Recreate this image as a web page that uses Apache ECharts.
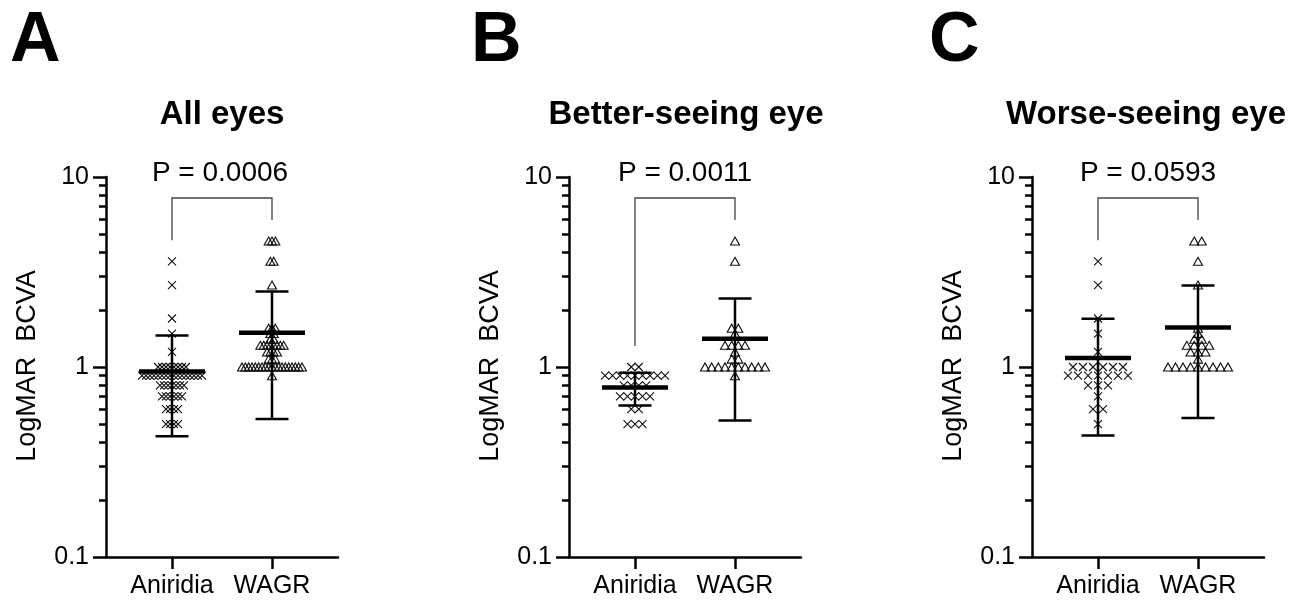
<!DOCTYPE html>
<html>
<head>
<meta charset="utf-8">
<script src="https://cdn.jsdelivr.net/npm/echarts@6/dist/echarts.min.js"></script>
<style>
html,body{margin:0;padding:0;background:#fff;}
#chart{width:1301px;height:603px;}
</style>
</head>
<body>
<div id="chart"></div>
<script>
// ---------------- data ----------------
const categories = ['Aniridia', 'WAGR'];
const panelLetters = ['A', 'B', 'C'];
const panelTitles = ['All eyes', 'Better-seeing eye', 'Worse-seeing eye'];
const pValues = ['P = 0.0006', 'P = 0.0011', 'P = 0.0593'];
const yTickValues = [0.1, 1, 10];
const yMinorTickValues = [0.2, 0.3, 0.4, 0.5, 0.6, 0.7, 0.8, 0.9, 2, 3, 4, 5, 6, 7, 8, 9];
const yAxisTitle = 'LogMAR  BCVA';

// All eyes
const allAniridia = [3.6, 2.7, 1.8, 1.5, 1.2,
  1.0, 1.0, 1.0, 1.0, 1.0, 1.0, 1.0, 1.0,
  0.9, 0.9, 0.9, 0.9, 0.9, 0.9, 0.9, 0.9, 0.9, 0.9, 0.9, 0.9, 0.9, 0.9, 0.9, 0.9,
  0.8, 0.8, 0.8, 0.8, 0.8, 0.8, 0.8,
  0.7, 0.7, 0.7, 0.7, 0.7, 0.7,
  0.6, 0.6, 0.6, 0.6,
  0.5, 0.5, 0.5, 0.5];
const allWAGR = [4.6, 4.6, 4.6, 3.6, 3.6, 2.7,
  1.6, 1.6, 1.6, 1.5, 1.5, 1.4, 1.4,
  1.3, 1.3, 1.3, 1.3, 1.3, 1.3, 1.3, 1.3,
  1.2, 1.2, 1.2, 1.2, 1.1, 1.1, 1.1,
  1.0, 1.0, 1.0, 1.0, 1.0, 1.0, 1.0, 1.0, 1.0, 1.0, 1.0, 1.0, 1.0, 1.0, 1.0, 1.0, 1.0, 1.0, 1.0,
  0.9];

// Better-seeing eye
const betterAniridia = [1.0, 1.0,
  0.9, 0.9, 0.9, 0.9, 0.9, 0.9, 0.9, 0.9, 0.9,
  0.8, 0.8, 0.8, 0.8,
  0.7, 0.7, 0.7, 0.7, 0.7,
  0.6, 0.6,
  0.5, 0.5, 0.5];
const betterWAGR = [4.6, 3.6, 1.6, 1.6, 1.5,
  1.3, 1.3, 1.3, 1.3, 1.2, 1.1, 1.1,
  1.0, 1.0, 1.0, 1.0, 1.0, 1.0, 1.0, 1.0, 1.0, 1.0,
  0.9];

// Worse-seeing eye
const worseAniridia = [3.6, 2.7, 1.8, 1.5, 1.2,
  1.0, 1.0, 1.0, 1.0, 1.0, 1.0,
  0.9, 0.9, 0.9, 0.9, 0.9, 0.9, 0.9,
  0.8, 0.8, 0.8,
  0.7,
  0.6, 0.6,
  0.5];
const worseWAGR = [4.6, 4.6, 3.6, 2.7, 1.6, 1.5, 1.4, 1.4,
  1.3, 1.3, 1.3, 1.3, 1.2, 1.2, 1.2, 1.1,
  1.0, 1.0, 1.0, 1.0, 1.0, 1.0, 1.0, 1.0, 1.0];

const panels = [
  [allAniridia, allWAGR],
  [betterAniridia, betterWAGR],
  [worseAniridia, worseWAGR]
];

// ---------------- helpers ----------------
const FONT = '"Liberation Sans", Arial, Helvetica, sans-serif';
const gridLefts = [106, 569, 1032];
const GRID_TOP = 177, GRID_H = 380, GRID_W = 232;
const X_MIN = 0.34, X_MAX = 2.66;

// dot-plot layout: points with equal value are spread symmetrically
function swarm(values, center) {
  const groups = new Map();
  values.forEach(v => { if (!groups.has(v)) groups.set(v, 0); groups.set(v, groups.get(v) + 1); });
  let maxCount = 1;
  groups.forEach(c => { if (c > maxCount) maxCount = c; });
  const sp = maxCount > 1 ? Math.min(0.10, 0.60 / (maxCount - 1)) : 0.1;
  const out = [];
  groups.forEach((n, v) => {
    for (let i = 0; i < n; i++) out.push([center + (i - (n - 1) / 2) * sp, v]);
  });
  return out;
}
function meanSd(values) {
  const n = values.length;
  const m = values.reduce((a, b) => a + b, 0) / n;
  const sd = Math.sqrt(values.reduce((a, b) => a + (b - m) * (b - m), 0) / (n - 1));
  return [m, sd];
}

const crossPath = 'path://M0,0L10,10M0,10L10,0';

const grids = [], xAxes = [], yAxes = [], series = [], graphics = [];

panels.forEach((pair, i) => {
  grids.push({ left: gridLefts[i], top: GRID_TOP, width: GRID_W, height: GRID_H });
  xAxes.push({
    type: 'value', gridIndex: i, min: X_MIN, max: X_MAX,
    axisLine: { show: true, lineStyle: { color: '#000', width: 2.5 } },
    axisTick: { show: true, customValues: [1, 2], length: 12, lineStyle: { color: '#000', width: 2.5 } },
    axisLabel: { show: true, customValues: [1, 2], formatter: v => categories[Math.round(v) - 1] || '',
      fontSize: 25, color: '#000', fontFamily: FONT, margin: 17 },
    splitLine: { show: false }
  });
  yAxes.push({
    type: 'log', logBase: 10, gridIndex: i, min: 0.1, max: 10, position: 'left',
    axisLine: { show: true, lineStyle: { color: '#000', width: 2.5 } },
    axisTick: { show: true, customValues: yTickValues, length: 13, lineStyle: { color: '#000', width: 2.5 } },
    axisLabel: { show: true, customValues: yTickValues, formatter: v => String(v), fontSize: 25, color: '#000', fontFamily: FONT, margin: 17 },
    splitLine: { show: false }
  });
  yAxes.push({
    type: 'log', logBase: 10, gridIndex: i, min: 0.1, max: 10, position: 'left', offset: 0,
    axisLine: { show: false },
    axisTick: { show: true, customValues: yMinorTickValues, length: 7, lineStyle: { color: '#000', width: 2.5 } },
    axisLabel: { show: false },
    splitLine: { show: false }
  });
  const yIdx = i * 2;

  pair.forEach((vals, k) => {
    series.push({
      type: 'scatter', xAxisIndex: i, yAxisIndex: yIdx,
      data: swarm(vals, k + 1),
      symbol: k === 0 ? crossPath : 'triangle',
      symbolSize: k === 0 ? 8 : [9, 8],
      itemStyle: { color: 'rgba(0,0,0,0)', borderColor: '#111', borderWidth: 1.1, opacity: 1 },
      silent: true, z: 2, animation: false
    });
  });

  const ebData = pair.map((vals, k) => {
    const [m, sd] = meanSd(vals);
    return [k + 1, m, m - sd, m + sd];
  });
  series.push({
    type: 'custom', xAxisIndex: i, yAxisIndex: yIdx, data: ebData, z: 5, silent: true, animation: false,
    encode: { x: 0, y: [1, 2, 3] },
    renderItem: function (params, api) {
      const x = api.value(0), m = api.value(1), lo = api.value(2), hi = api.value(3);
      const pm = api.coord([x, m]), plo = api.coord([x, lo]), phi = api.coord([x, hi]);
      const wMean = api.coord([x + 0.33, m])[0] - pm[0];
      const wCap = api.coord([x + 0.165, m])[0] - pm[0];
      const st = { stroke: '#000', lineWidth: 2.5 };
      return { type: 'group', children: [
        { type: 'line', shape: { x1: pm[0], y1: plo[1], x2: pm[0], y2: phi[1] }, style: st },
        { type: 'line', shape: { x1: pm[0] - wCap, y1: plo[1], x2: pm[0] + wCap, y2: plo[1] }, style: st },
        { type: 'line', shape: { x1: pm[0] - wCap, y1: phi[1], x2: pm[0] + wCap, y2: phi[1] }, style: st },
        { type: 'line', shape: { x1: pm[0] - wMean, y1: pm[1], x2: pm[0] + wMean, y2: pm[1] }, style: { stroke: '#000', lineWidth: 4.5 } }
      ] };
    }
  });

  // significance bracket, legs end above the highest point of each group
  series.push({
    type: 'custom', xAxisIndex: i, yAxisIndex: yIdx, silent: true, animation: false, z: 4,
    data: [[1, 2, Math.max(...pair[0]), Math.max(...pair[1])]],
    encode: { x: [0, 1], y: [2, 3] },
    renderItem: function (params, api) {
      const xL = api.coord([api.value(0), 1])[0];
      const xR = api.coord([api.value(1), 1])[0];
      const top = api.coord([1, 10])[1] + 21;
      const yL = api.coord([1, api.value(2)])[1] - 21;
      const yR = api.coord([2, api.value(3)])[1] - 21;
      return { type: 'polyline', shape: { points: [[xL, yL], [xL, top], [xR, top], [xR, yR]] },
        style: { stroke: '#444', lineWidth: 1.3, fill: null } };
    }
  });

  const left = gridLefts[i];
  graphics.push({ type: 'text', x: [10, 471, 929][i], y: 42, style: { text: panelLetters[i], font: 'bold 70px ' + FONT, fill: '#000', textAlign: 'left', textVerticalAlign: 'middle' } });
  graphics.push({ type: 'text', x: [222, 686, 1146][i], y: 114.5, style: { text: panelTitles[i], font: 'bold 33px ' + FONT, fill: '#000', textAlign: 'center', textVerticalAlign: 'middle' } });
  graphics.push({ type: 'text', x: [220, 685, 1148][i], y: 173.5, style: { text: pValues[i], font: '28px ' + FONT, fill: '#000', textAlign: 'center', textVerticalAlign: 'middle' } });
  graphics.push({ type: 'text', x: left - 78, y: 366, rotation: Math.PI / 2, style: { text: yAxisTitle, font: '27px ' + FONT, fill: '#000', textAlign: 'center', textVerticalAlign: 'middle' } });
});

const chart = echarts.init(document.getElementById('chart'), null, { renderer: 'canvas' });
chart.setOption({
  backgroundColor: '#fff',
  animation: false,
  grid: grids,
  xAxis: xAxes,
  yAxis: yAxes,
  series: series,
  graphic: graphics
});
</script>
</body>
</html>
